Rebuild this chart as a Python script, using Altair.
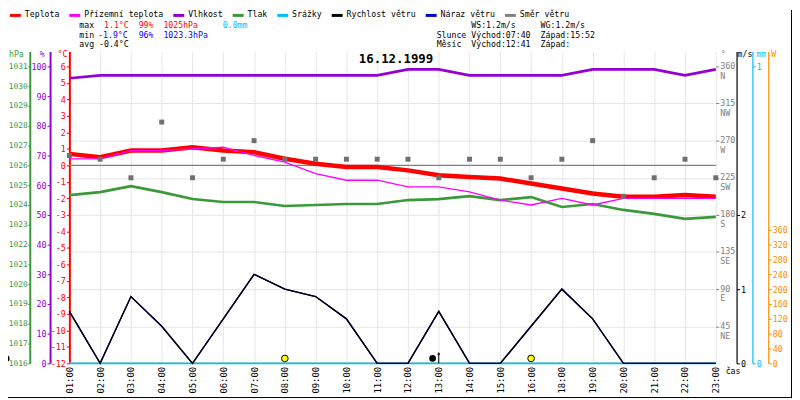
import json
import altair as alt
import pandas as pd

MONO = "DejaVu Sans Mono"

hours = ["01:00", "02:00", "03:00", "04:00", "05:00", "06:00", "07:00", "08:00",
         "09:00", "10:00", "11:00", "12:00", "13:00", "14:00", "15:00", "16:00",
         "18:00", "19:00", "20:00", "21:00", "22:00", "23:00"]
temperature = [0.7, 0.5, 0.9, 0.9, 1.1, 0.9, 0.8, 0.4, 0.1, -0.1, -0.1, -0.3,
               -0.6, -0.7, -0.8, -1.1, -1.4, -1.7, -1.9, -1.9, -1.8, -1.9]
feels_like = [0.4, 0.4, 0.9, 0.9, 1.0, 1.1, 0.6, 0.2, -0.5, -0.9, -0.9, -1.3,
              -1.3, -1.6, -2.1, -2.4, -2.0, -2.4, -2.0, -2.0, -2.0, -2.0]
humidity = [96, 97, 97, 97, 97, 97, 97, 97, 97, 97, 97, 99,
            99, 97, 97, 97, 97, 99, 99, 99, 97, 99]
pressure = [1024.5, 1024.65, 1024.95, 1024.65, 1024.3, 1024.15, 1024.15, 1023.95,
            1024.0, 1024.05, 1024.05, 1024.25, 1024.3, 1024.45, 1024.25, 1024.4,
            1023.9, 1024.05, 1023.75, 1023.55, 1023.3, 1023.4]
wind_dir = [252, 247.5, 225, 292.5, 225, 247.5, 270, 247.5, 247.5, 247.5, 247.5,
            247.5, 225, 247.5, 247.5, 225, 247.5, 270, 202.5, 225, 247.5, 225]
wind_speed = [0.7, 0.0, 0.9, 0.5, 0.0, 0.6, 1.2, 1.0, 0.9, 0.6, 0.0, 0.0,
              0.7, 0.0, 0.0, 0.5, 1.0, 0.6, 0.0, 0.0, 0.0, 0.0]
wind_gust = [0.7, 0.0, 0.9, 0.5, 0.0, 0.6, 1.2, 1.0, 0.9, 0.6, 0.0, 0.0,
             0.7, 0.0, 0.0, 0.5, 1.0, 0.6, 0.0, 0.0, 0.0, 0.0]
rain = [0.0, 0.0, 0.0, 0.0, 0.0, 0.0, 0.0, 0.0, 0.0, 0.0, 0.0, 0.0,
        0.0, 0.0, 0.0, 0.0, 0.0, 0.0, 0.0, 0.0, 0.0, 0.0]
radiation = [0, 0, 0, 0, 0, 0, 0, 0, 0, 0, 0, 0,
             0, 0, 0, 0, 0, 0, 0, 0, 0, 0]

sun_marks = [7, 15]
moon_marks = [-2.05, 11.8]
moon_arrow = [12]

legend_names = ["Teplota", "Přízemní teplota", "Vlhkost", "Tlak", "Srážky",
                "Rychlost větru", "Náraz větru", "Směr větru"]
legend_colors = ["#ff0000", "#ff00ff", "#9400d3", "#3a9a3a", "#00bfff",
                 "#000000", "#0000cd", "#808080"]

title_text = "16.12.1999"
t_max, t_min, t_avg = "1.1°C", "-1.9°C", "avg -0.4°C"
h_max, h_min = "99%", "96%"
p_max, p_min = "1025hPa", "1023.3hPa"
r_max = "0.0mm"
ws_text, wg_text = "WS:1.2m/s", "WG:1.2m/s"
sun_rise, sun_set = "Východ:07:40", "Západ:15:52"
moon_rise, moon_set = "Východ:12:41", "Západ:"

RED, MAG, PUR, GRN, CYA, BLU, GRY, ORA = ("#ff0000", "#ff00ff", "#9400d3", "#3a9a3a",
                                          "#00bfff", "#0000cd", "#707070", "#ff8c00")

df = pd.DataFrame({
    "i": list(range(len(hours))), "hour": hours, "temp": temperature, "feels": feels_like,
    "hum": humidity, "press": pressure, "wdir": wind_dir, "wspd": wind_speed,
    "gust": wind_gust, "rain": rain, "rad": radiation,
})

label_expr = json.dumps(hours) + "[datum.value]"
NUM = "'' + datum.value"


def X(field="i"):
    return alt.X(f"{field}:Q", scale=alt.Scale(domain=[0, 21], nice=False, zero=False),
                 axis=alt.Axis(values=list(range(22)), labelExpr=label_expr, labelAngle=270,
                               labelAlign="right", labelBaseline="middle", grid=True,
                               gridColor="#e6e6e6", ticks=False, domain=False, labelFont=MONO,
                               labelFontSize=9, labelPadding=3, labelColor="#000000",
                               labelFlush=False, labelOverlap=False, title=None))


def Y(field, domain, axis=None):
    return alt.Y(f"{field}:Q", scale=alt.Scale(domain=domain, nice=False, zero=False),
                 axis=axis, title=None)


def side_axis(orient, offset, values, color, width=1.5, expr=NUM, size=8.5, tick=3, pad=1):
    return alt.Axis(orient=orient, offset=offset, values=values, labelExpr=expr,
                    labelColor=color, domainColor=color, tickColor=color, domainWidth=width,
                    tickSize=tick, tickWidth=1, labelFont=MONO, labelFontSize=size,
                    labelPadding=pad, labelFlush=False, labelOverlap=False, grid=False,
                    title=None)


D_C = [-12, 6.9]
D_P = [1016, 1031.75]
D_H = [0, 105]
D_D = [0, 378]
D_W = [0, 4.2]
D_R = [0, 1.05]
D_S = [0, 840]

base = alt.Chart(df)

rad_layer = base.mark_line(color=ORA, strokeWidth=1.5).encode(
    x=X(), y=Y("rad", D_S, side_axis("right", 53, list(range(0, 361, 40)), ORA, 1.2)))

dir_expr = ("['' + datum.value, ['N','NE',' E','SE',' S','SW',' W','NW',' N']"
            "[datum.value / 45]]")
dir_axis = alt.Axis(orient="right", offset=0, values=list(range(45, 361, 45)), labelExpr=dir_expr,
                    labelColor="#808080", tickColor="#808080", tickSize=3, domain=False,
                    labelFont=MONO, labelFontSize=8.5, labelPadding=1, labelBaseline="top",
                    labelOffset=-5, labelLineHeight=10, labelFlush=False, labelOverlap=False,
                    grid=True, gridColor={"condition": {"test": "datum.value >= 360",
                                                        "value": "transparent"},
                                          "value": "#e6e6e6"},
                    title=None)

zero_layer = alt.Chart(pd.DataFrame({"z": [0]})).mark_rule(color="#808080", strokeWidth=1.2).encode(
    y=Y("z", D_C))

rain_layer = base.mark_line(color=CYA, strokeWidth=2).encode(
    x=X(), y=Y("rain", D_R, side_axis("right", 37, [0, 1], CYA, 1.2)))

gust_layer = base.mark_line(color=BLU, strokeWidth=1.4).encode(x=X(), y=Y("gust", D_W))

wind_layer = base.mark_line(color="#000000", strokeWidth=1.4).encode(
    x=X(), y=Y("wspd", D_W, side_axis("right", 21, [0, 1, 2], "#000000", 1.2)))

press_layer = base.mark_line(color=GRN, strokeWidth=2.7).encode(
    x=X(), y=Y("press", D_P, side_axis("left", 40, list(range(1016, 1032)), GRN, 2,
                                       size=8, tick=2, pad=0.5)))

hum_layer = base.mark_line(color=PUR, strokeWidth=2.7).encode(
    x=X(), y=Y("hum", D_H, side_axis("left", 19.5, list(range(0, 101, 10)), PUR, 2)))

temp_layer = base.mark_line(color=RED, strokeWidth=4.5).encode(
    x=X(), y=Y("temp", D_C, side_axis("left", 0, list(range(-12, 7)), RED, 2)))

feels_layer = base.mark_line(color=MAG, strokeWidth=1.3).encode(x=X(), y=Y("feels", D_C))

dir_layer = base.mark_square(color=GRY, size=25, opacity=1).encode(
    x=X(), y=Y("wdir", D_D, dir_axis))

sun_layer = alt.Chart(pd.DataFrame({"s": sun_marks})).mark_circle(
    color="#ffff00", size=45, opacity=1, stroke="#000000", strokeWidth=1).encode(
    x=X("s"), y=alt.value(310))
moon_layer = alt.Chart(pd.DataFrame({"m": moon_marks})).mark_circle(
    color="#000000", size=45, opacity=1).encode(x=X("m"), y=alt.value(310))
arrow_rule = alt.Chart(pd.DataFrame({"a": moon_arrow})).mark_rule(
    color="#000000", strokeWidth=1).encode(x=X("a"), y=alt.value(305), y2=alt.value(315))
arrow_head = alt.Chart(pd.DataFrame({"a": moon_arrow})).mark_point(
    shape="triangle-up", filled=True, size=10, color="#000000", opacity=1).encode(
    x=X("a"), y=alt.value(305))


def txt(s, x, y, color="#000000", size=8.3, weight="normal", align="left"):
    return alt.Chart(pd.DataFrame({"s": [s]})).mark_text(
        align=align, baseline="middle", font=MONO, fontSize=size, fontWeight=weight,
        color=color).encode(text="s:N", x=alt.value(x), y=alt.value(y))


# hand-drawn legend row (monospace: 5 px per character, as in the reference)
legend_layers = []
lx = -60
for name, col in zip(legend_names, legend_colors):
    legend_layers.append(
        alt.Chart(pd.DataFrame({"n": [name]})).mark_rule(color=col, strokeWidth=3).encode(
            x=alt.value(lx), x2=alt.value(lx + 11), y=alt.value(-36.5)))
    legend_layers.append(txt(name, lx + 15, -36.5))
    lx = lx + 15 + 5 * len(name) + 10

texts = [
    txt("max", 10, -25.5), txt(t_max, 35, -25.5, RED), txt(h_max, 70, -25.5, RED),
    txt(p_max, 95, -25.5, RED), txt(r_max, 155, -25.5, CYA),
    txt("min", 10, -16), txt(t_min, 29, -16, "#0000ff"), txt(h_min, 70, -16, "#0000ff"),
    txt(p_min, 95, -16, "#0000ff"),
    txt(t_avg, 10, -6.5),
    txt(ws_text, 406, -25.5), txt(wg_text, 476, -25.5),
    txt("Slunce", 371, -16), txt(sun_rise, 406, -16), txt(sun_set, 476, -16),
    txt("Měsíc", 371, -6.5), txt(moon_rise, 406, -6.5), txt(moon_set, 476, -6.5),
    txt(title_text, 330, 7.5, size=12.5, weight="bold", align="center"),
    txt("hPa", -61, 3.5, GRN), txt("%", -30, 3.5, PUR), txt("°C", -12, 3.5, RED),
    txt("°", 658, 3.5, "#808080"), txt("m/s", 675, 3.5), txt("mm", 694, 3.5, CYA),
    txt("W", 709, 3.5, ORA),
    txt("čas", 663, 324),
]

border = alt.Chart(pd.DataFrame({"b": [0]})).mark_rule(color="#000000", strokeWidth=1)
border_r = border.encode(x=alt.value(729.5), y=alt.value(-42), y2=alt.value(350))
border_b = border.encode(x=alt.value(-62), x2=alt.value(730), y=alt.value(349.5))

chart = alt.layer(
    rad_layer, zero_layer, rain_layer, gust_layer, wind_layer, press_layer, hum_layer,
    temp_layer, feels_layer, dir_layer, sun_layer, moon_layer, arrow_rule, arrow_head,
    *legend_layers, *texts, border_r, border_b
).resolve_scale(y="independent").properties(
    width=653, height=315,
    autosize=alt.AutoSizeParams(type="none"),
    padding={"left": 62, "top": 42, "right": 77, "bottom": 35},
    background="#ffffff",
).configure_view(stroke=None)

chart.save("out.html", embed_options={"renderer": "svg", "actions": False})
